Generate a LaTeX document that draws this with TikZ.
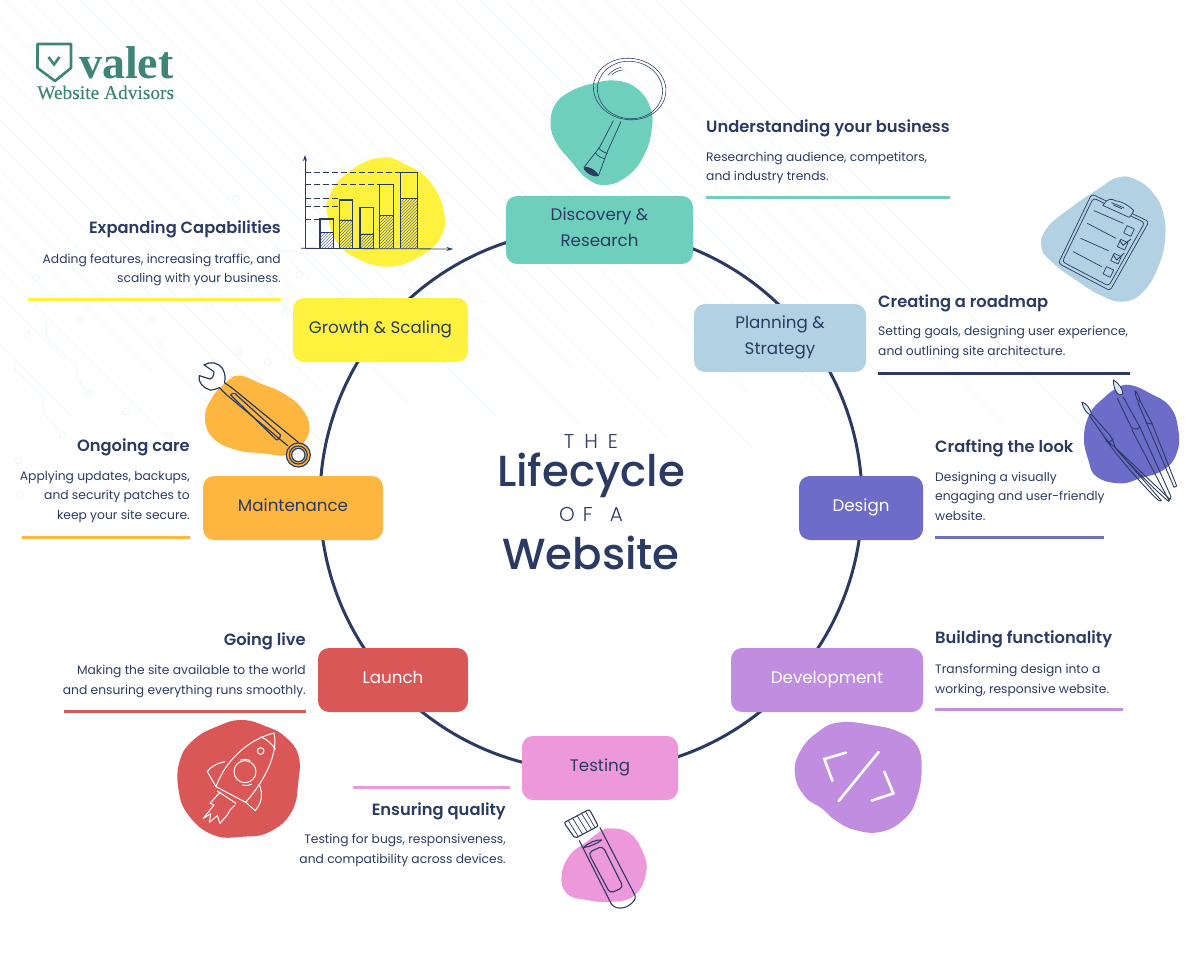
\documentclass[tikz,border=0pt]{standalone}
\usepackage{fontspec}
\setmainfont{Poppins}
\newfontfamily\medf{Poppins Medium}
\newfontfamily\semif{Poppins SemiBold}
\newfontfamily\lightf{Poppins Light}
\newfontfamily\logof{Liberation Serif}
\newfontfamily\logosubf[FakeBold=0.25]{Liberation Serif}
\usetikzlibrary{patterns,arrows.meta}
\definecolor{ink}{HTML}{2A3A63}
\definecolor{cteal}{HTML}{6FCFBD}
\definecolor{cblue}{HTML}{B2D2E3}
\definecolor{cindigo}{HTML}{6E6CC9}
\definecolor{cviolet}{HTML}{C08DE0}
\definecolor{cpink}{HTML}{EE98DC}
\definecolor{cred}{HTML}{D95757}
\definecolor{corange}{HTML}{FDB640}
\definecolor{cyellow}{HTML}{FEF23F}
\definecolor{clogo}{HTML}{3F8577}
\definecolor{cbg}{HTML}{F0F8F7}
\tikzset{
 stage/.style={rounded corners=11pt,inner sep=0pt,align=center,font=\fontsize{16.7}{26}\selectfont,text=ink},
 head/.style={inner sep=0pt,text=ink,font=\semif\fontsize{16.3}{20}\selectfont},
 bodyt/.style={inner sep=0pt,text=ink,font=\fontsize{12.3}{19.5}\selectfont},
 rule/.style={line width=3pt},
 zoomed/.style 2 args={shift={(#1,#2)},x=.33333pt,y=-.33333pt},
 thin ink/.style={draw=ink,line width=.7pt,line join=round,line cap=round},
}
\newcommand\blobfill[2]{\fill[#1] plot[smooth cycle,tension=.75] coordinates {#2};}
\newcommand\stagebox[8]{% name, x1,y1,x2,y2, fill, textcol, text
 \node[stage,fill=#6,text=#7,minimum width=#4pt-#2pt,minimum height=#5pt-#3pt] (#1) at ({(#2+#4)/2},{(#3+#5)/2}) {\raisebox{1.5pt}[\height][\depth]{\begin{tabular}{@{}c@{}}#8\end{tabular}}};}
\begin{document}
\begin{tikzpicture}[x=1pt,y=-1pt]
\useasboundingbox (0,0) rectangle (1200,960);
% faint circuit background
\begin{scope}
\clip (0,0) rectangle (1200,960);
\foreach \c [count=\i] in {-520,-495,...,700}{
  \pgfmathsetmacro\L{260+mod(\i*67,190)}
  \draw[cbg,line width=1pt] (\c,0) -- ++(\L,\L);
}
\end{scope}
\begin{scope}[zoomed={0}{200}]
\draw[cbg,line width=1pt] (140,360) -- (140,410) -- (230,500) -- (230,530) -- (265,580);
\draw[cbg,line width=1pt] (45,470) -- (45,510) -- (130,590) -- (130,640) -- (190,705);
\draw[cbg,line width=1pt] (600,150) -- (680,150) -- (900,370);
\draw[cbg,line width=1pt] (820,155) -- (900,155) -- (1100,355);
\foreach \a/\b in {108/232,265/580,378/635,188/705,480/432,717/457,803/486,55/782,505/705,897/225,745/280,855/335,708/-5,627/320,455/358,240/358,82/405,60/885}{
  \filldraw[draw=cbg,fill=white,line width=1pt] (\a,\b) circle (10);
}
\end{scope}
% logo
\node[inner sep=0pt,anchor=base west,text=clogo,font=\logof\bfseries\fontsize{46}{46}\selectfont] (brand) at (79,79) {valet};
\node[inner sep=0pt,anchor=base west,text=clogo,font=\logosubf\fontsize{19.4}{20}\selectfont] (brandsub) at (37,99) {Website Advisors};
\draw[clogo,line width=2.6pt,line join=round] (37.5,44) -- (71,44) -- (71,68) -- (55,81) -- (37.5,68) -- cycle;
\draw[clogo,line width=2.6pt,line join=miter] (48.5,57) -- (54,64.5) -- (59.5,57);
% ring
\node[circle,draw=ink,line width=3pt,minimum size=542pt,inner sep=0pt] (ring) at (591,500) {};
% icons
% magnifier
\begin{scope}[zoomed={530}{50}]
\blobfill{cteal}{(190,100)(260,92)(320,115)(360,170)(365,240)(340,320)(290,380)(225,405)(170,385)(120,330)(80,280)(62,225)(75,165)(120,125)}
\draw[thin ink,line width=.55pt,rotate around={-8:(299,117)}] (299,117) ellipse [x radius=109,y radius=92];
\draw[thin ink,line width=.55pt,rotate around={-8:(300,120)}] (300,120) ellipse [x radius=98,y radius=86];
\draw[thin ink,line width=.55pt] (234,76) .. controls (245,62) and (260,55) .. (273,52);
\draw[thin ink,line width=.55pt] (246,73) .. controls (255,66) and (265,62) .. (277,60);
\draw[thin ink] (250,212) -- (210,290) -- (162,352);
\draw[thin ink] (273,215) -- (232,305) -- (205,378);
\draw[thin ink] (206,294) .. controls (212,302) and (222,308) .. (233,310);
\draw[thin ink] (196,309) .. controls (204,318) and (214,324) .. (224,326);
\fill[ink,rotate around={-30:(183,365)}] (183,365) ellipse [x radius=24,y radius=9];
\end{scope}
% clipboard
\begin{scope}[zoomed={1030}{170}]
\blobfill{cblue}{(265,22)(320,30)(370,70)(400,130)(405,210)(385,290)(340,365)(280,395)(210,375)(130,325)(70,280)(35,235)(50,175)(120,115)(200,60)}
\draw[thin ink,rounded corners=3pt] (185,72) -- (357,155) -- (240,362) -- (85,280) -- cycle;
\draw[thin ink,rounded corners=3pt] (190,84) -- (344,158) -- (236,348) -- (97,275) -- cycle;
\draw[thin ink,fill=cblue] (222,102) .. controls (232,85) and (245,85) .. (258,93) .. controls (270,92) and (300,108) .. (311,122) .. controls (305,135) and (300,140) .. (297,142) -- (218,106) -- cycle;
\draw[thin ink] (245,98) -- (282,114);
\draw[thin ink] (250,105) -- (275,116);
\draw[thin ink] (192,122) -- (280,160);
\draw[thin ink] (172,160) -- (258,205);
\draw[thin ink] (152,205) -- (235,242);
\draw[thin ink] (130,245) -- (215,290);
\foreach \q/\r in {297/183,278/224,258/266,235/306}{
  \draw[thin ink,rotate around={-25:(\q,\r)}] (\q-12,\r-12) rectangle (\q+12,\r+12);
}
\draw[thin ink,line width=.9pt] (270,212) -- (279,226) -- (302,208);
\draw[thin ink,line width=.9pt] (250,255) -- (260,270) -- (282,250);
\end{scope}
% brushes
\begin{scope}[zoomed={1060}{370}]
\blobfill{cindigo}{(210,45)(270,70)(330,110)(355,180)(350,250)(310,300)(240,325)(180,340)(110,320)(85,270)(72,200)(90,130)(130,85)(170,55)}
\tikzset{br/.style={draw=ink,line width=.9pt,line join=round,line cap=round}}
% brush 1
\draw[br,fill=cblue!50] (66,96) .. controls (80,100) and (92,118) .. (95,134) .. controls (85,136) and (70,120) .. (66,96) -- cycle;
\draw[br] (88,136) -- (128,193) .. controls (135,205) and (150,222) .. (165,232) -- (304,392) -- (298,393) .. controls (285,386) and (160,250) .. (128,193);
\draw[br] (95,134) -- (150,196) .. controls (158,208) and (163,222) .. (165,232);
\draw[br] (138,214) .. controls (148,218) and (158,212) .. (160,205);
\draw[br] (165,232) -- (330,388) -- (326,394) .. controls (300,375) and (190,265) .. (165,232);
% brush 2
\draw[br,fill=cblue!50] (160,30) .. controls (175,38) and (190,58) .. (188,72) .. controls (178,84) and (160,62) .. (160,30) -- cycle;
\draw[br] (172,85) -- (208,160) .. controls (212,178) and (230,182) .. (240,172) -- (190,82);
\draw[br] (215,178) -- (326,390);
\draw[br] (240,172) -- (333,380) -- (330,388);
% brush 3
\draw[br] (225,62) .. controls (232,68) and (240,85) .. (240,94) .. controls (234,96) and (226,82) .. (225,62) -- cycle;
\draw[br] (233,96) -- (258,155) -- (342,352) -- (350,348) -- (275,158) -- (241,94);
\draw[br] (258,158) -- (276,162);
\end{scope}
% bars
\begin{scope}[zoomed={290}{145}]
\blobfill{cyellow}{(270,38)(350,60)(420,110)(462,200)(450,280)(380,340)(290,365)(200,340)(140,290)(115,220)(115,160)(170,85)}
\foreach \ya/\xa in {82/332,118/268,160/148,185/148,222/90}{
  \draw[ink,line width=.7pt,dash pattern=on 6pt off 3pt] (45,\ya) -- (\xa,\ya);
}
\foreach \xl/\xr/\ytop/\yh in {90/130/222/262,148/188/165/225,210/250/187/267,268/310/118/212,332/382/82/160}{
  \fill[pattern=north east lines,pattern color=ink!70] (\xl,\yh) rectangle (\xr,310);
  \draw[ink,line width=.7pt] (\xl,\yh) -- (\xr,\yh);
  \draw[ink,line width=1.6pt] (\xl,310) -- (\xl,\ytop) -- (\xr,\ytop) -- (\xr,310);
}
\draw[ink,line width=.8pt,-{Stealth[length=6pt,width=4pt]}] (45,310) -- (45,30);
\draw[ink,line width=.8pt,-{Stealth[length=7pt,width=4pt]}] (33,310) -- (490,312);
\end{scope}
% wrench
\begin{scope}[zoomed={190}{355}]
\blobfill{corange}{(150,62)(210,85)(280,115)(335,160)(358,215)(340,265)(290,300)(220,295)(140,285)(70,250)(45,190)(65,130)(110,80)}
\draw[ink,line width=1.2pt,line join=round,line cap=round] (42,30) .. controls (60,18) and (85,22) .. (97,40) .. controls (108,58) and (106,75) .. (103,83) -- (125,98) -- (325,262);
\draw[ink,line width=1.2pt,line join=round,line cap=round] (42,30) -- (72,50) .. controls (72,60) and (68,70) .. (60,72) -- (28,62) .. controls (22,80) and (40,100) .. (60,105) .. controls (70,106) and (82,100) .. (88,98) -- (108,118) -- (293,272);
\draw[ink,line width=1.2pt,line join=round] (122,120) .. controls (125,115) and (130,114) .. (135,116) -- (272,240) .. controls (272,248) and (266,254) .. (260,255) -- cycle;
\fill[corange] (325,300) circle (36);
\fill[white] (325,300) circle (20);
\draw[ink,line width=1.2pt] (325,300) circle (36);
\draw[ink,line width=1.2pt] (325,300) circle (27);
\draw[ink,line width=1.2pt] (325,300) circle (20);
\end{scope}
% rocket
\begin{scope}[zoomed={170}{715}]
\blobfill{cred}{(215,15)(290,35)(345,65)(385,120)(385,200)(365,290)(300,350)(220,365)(130,360)(55,300)(25,220)(30,135)(70,75)(140,35)}
\tikzset{wl/.style={draw=white,line width=1pt,line join=round,line cap=round}}
\draw[wl] (138,215) .. controls (165,140) and (230,75) .. (312,54) .. controls (325,110) and (290,190) .. (227,262) -- cycle;
\draw[wl] (272,66) .. controls (290,72) and (305,85) .. (316,103);
\draw[wl] (225,170) circle (33);
\draw[wl] (212,135) .. controls (222,132) and (232,133) .. (240,136);
\draw[wl] (218,210) .. controls (225,213) and (235,212) .. (245,207);
\draw[wl] (272,108) circle (10);
\draw[wl] (165,140) .. controls (140,145) and (122,155) .. (112,170) -- (138,215);
\draw[wl] (268,208) .. controls (280,240) and (275,265) .. (255,287) -- (228,262);
\draw[wl] (142,228) -- (198,265);
\draw[wl] (150,232) -- (120,265) -- (132,270) -- (100,310) -- (122,296) -- (118,322) -- (142,302) -- (150,325) -- (172,300) -- (180,285) -- (195,270);
\end{scope}
% test tube
\begin{scope}[zoomed={550}{800}]
\blobfill{cpink}{(180,85)(240,100)(280,160)(288,220)(255,285)(190,305)(110,300)(50,280)(35,225)(60,165)(110,125)(150,95)}
\draw[thin ink,line width=1.1pt,fill=white,rounded corners=2pt] (42,68) -- (118,28) -- (145,78) -- (75,115) -- cycle;
\foreach \xa/\ya/\xb/\yb in {55/62/85/110,68/55/98/103,82/48/112/96,95/41/125/89,107/35/135/83}{
  \draw[thin ink] (\xa,\ya) -- (\xb,\yb);
}
\draw[thin ink,line width=1.1pt] (88,122) -- (183,310) .. controls (195,330) and (225,328) .. (245,310) .. controls (258,298) and (258,290) .. (252,280) -- (150,83);
\draw[thin ink,line width=1.1pt] (100,143) .. controls (115,128) and (140,118) .. (155,120);
\draw[thin ink,line width=1.1pt] (100,143) .. controls (118,140) and (140,132) .. (155,120);
\draw[thin ink,line width=1.1pt,rounded corners=4pt] (115,158) -- (158,138) -- (220,262) -- (180,280) -- cycle;
\end{scope}
% code
\begin{scope}[zoomed={785}{715}]
\blobfill{cviolet}{(165,22)(260,30)(340,50)(395,90)(410,160)(395,250)(360,310)(290,350)(210,345)(150,315)(110,280)(60,245)(30,180)(45,110)(100,50)}
\draw[white,line width=2.6pt,line cap=round,line join=miter] (183,113) -- (118,132) -- (142,197);
\draw[white,line width=2.6pt,line cap=round] (281,111) -- (161,258);
\draw[white,line width=2.6pt,line cap=round,line join=miter] (298,170) -- (325,235) -- (260,257);
\end{scope}
% stages
\stagebox{discovery}{506}{196}{693}{264}{cteal}{ink}{Discovery \&\\Research}
\stagebox{planning}{694}{304}{866}{372}{cblue}{ink}{Planning \&\\Strategy}
\stagebox{design}{799}{476}{923}{540}{cindigo}{white}{Design}
\stagebox{development}{731}{648}{923}{712}{cviolet}{white}{Development}
\stagebox{testing}{522}{736}{678}{800}{cpink}{ink}{Testing}
\stagebox{launch}{318}{648}{468}{712}{cred}{white}{Launch}
\stagebox{maintenance}{203}{476}{383}{540}{corange}{ink}{Maintenance}
\stagebox{growth}{293}{298}{468}{362}{cyellow}{ink}{Growth \& Scaling}
% captions
\node[head,anchor=base west] (h1) at (706,133) {Understanding your business};
\node[bodyt,anchor=base west,align=left] (b1) at (706,181) {Researching audience, competitors,\\and industry trends.};
\draw[rule,cteal] (706,198) -- (950,198);
\node[head,anchor=base west] (h2) at (878,308) {Creating a roadmap};
\node[bodyt,anchor=base west,align=left] (b2) at (878,355) {Setting goals, designing user experience,\\and outlining site architecture.};
\draw[rule,ink] (878,373) -- (1130,373);
\node[head,anchor=base west] (h3) at (935,452) {Crafting the look};
\node[bodyt,anchor=base west,align=left] (b3) at (935,520) {Designing a visually\\engaging and user-friendly\\website.};
\draw[rule,cindigo] (935,537) -- (1104,537);
\node[head,anchor=base west] (h4) at (935,643) {Building functionality};
\node[bodyt,anchor=base west,align=left] (b4) at (935,693) {Transforming design into a\\working, responsive website.};
\draw[rule,cviolet] (935,709) -- (1123,709);
\node[head,anchor=base east] (h5) at (506,815) {Ensuring quality};
\node[bodyt,anchor=base east,align=right] (b5) at (506,863) {Testing for bugs, responsiveness,\\and compatibility across devices.};
\draw[rule,cpink] (353,787) -- (510,787);
\node[head,anchor=base east] (h6) at (306,645) {Going live};
\node[bodyt,anchor=base east,align=right] (b6) at (306,694) {Making the site available to the world\\and ensuring everything runs smoothly.};
\draw[rule,cred] (64,711) -- (306,711);
\node[head,anchor=base east] (h7) at (190,451) {Ongoing care};
\node[bodyt,anchor=base east,align=right] (b7) at (190,519) {Applying updates, backups,\\and security patches to\\keep your site secure.};
\draw[rule,corange] (22,537) -- (190,537);
\node[head,anchor=base east] (h8) at (281,234) {Expanding Capabilities};
\node[bodyt,anchor=base east,align=right] (b8) at (281,283) {Adding features, increasing traffic, and\\scaling with your business.};
\draw[rule,cyellow] (28,299) -- (281,299);
% title
\node[inner sep=0pt,anchor=base,text=ink,font=\lightf\fontsize{20}{20}\selectfont] (t1) at (591,448) {T\hspace{.5em}H\hspace{.5em}E};
\node[inner sep=0pt,anchor=base,text=ink,font=\medf\fontsize{43.5}{44}\selectfont] (t2) at (591,486) {Lifecycle};
\node[inner sep=0pt,anchor=base,text=ink,font=\lightf\fontsize{20}{20}\selectfont] (t3) at (591,521) {O\hspace{.4em}F\hspace{.85em}A};
\node[inner sep=0pt,anchor=base,text=ink,font=\medf\fontsize{43.5}{44}\selectfont] (t4) at (591,569) {Website};
\end{tikzpicture}
\end{document}
